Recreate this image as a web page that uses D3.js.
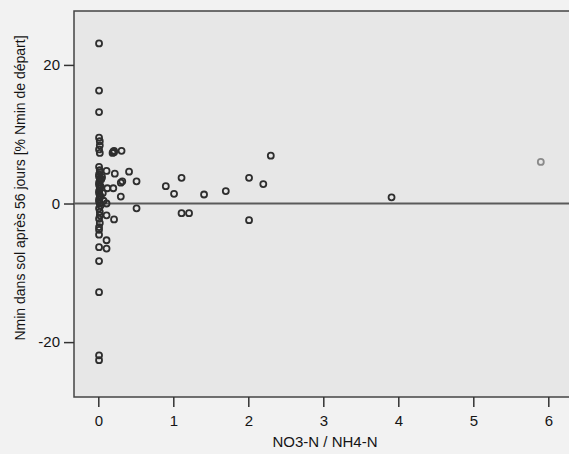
<!DOCTYPE html>
<html>
<head>
<meta charset="utf-8">
<script src="https://cdn.jsdelivr.net/npm/d3@7"></script>
<style>
  body { margin: 0; background: #f2f2f2; }
  svg { display: block; font-family: "Liberation Sans", Arial, sans-serif; }
</style>
</head>
<body>
<div id="chart"></div>
<script>
// NO3-N / NH4-N ratio
let ratio = [
  0.01, 0.01, 0.01, 0.01, 0.02, 0.02, 0.01, 0.02, 0.01, 0.02, 0.01, 0.02, 0.01, 0.02,
  0.01, 0.02, 0.01, 0.02, 0.01, 0.02, 0.01, 0.02, 0.01, 0.01, 0.01, 0.01, 0.01, 0.01, 0.01,
  0.02, 0.01, 0.02, 0.01, 0.02, 0.01, 0.02, 0.01, 0.03, 0.03, 0.04, 0.03, 0.02, 0.01,
  0.11, 0.12, 0.11, 0.11, 0.11, 0.11, 0.05, 0.06, 0.07,
  0.20, 0.19, 0.21, 0.21, 0.31, 0.22, 0.20, 0.21, 0.30, 0.32, 0.30, 0.41, 0.51, 0.51,
  0.90, 1.01, 1.11, 1.11, 1.21, 1.41, 1.70, 2.01, 2.01, 2.20, 2.30, 3.91, 5.90
];
// Nmin dans sol apres 56 jours [% Nmin de depart]
let nmin = [
  23.1, 16.3, 13.2, 9.5, 9.0, 8.4, 7.8, 7.3, 5.3, 4.8, 4.2, 3.6, 3.0, 2.4,
  1.8, 1.2, 0.6, 0.0, -0.7, -1.2, -2.2, -2.8, -3.4, -4.5, -6.3, -8.3, -12.8, -21.9, -22.6,
  4.5, 3.9, 3.3, 2.7, 2.1, 1.5, 0.9, 0.3, 2.5, 1.0, 3.5, -0.3, -1.7, -3.8,
  4.7, 2.2, 0.0, -1.7, -5.3, -6.5, 3.8, 1.5, 0.4,
  7.5, 7.3, 7.4, 7.6, 7.6, 4.3, 2.2, -2.3, 3.0, 3.2, 1.0, 4.6, 3.2, -0.7,
  2.5, 1.4, 3.7, -1.4, -1.4, 1.3, 1.8, 3.7, -2.4, 2.8, 6.9, 0.9, 6.0
];
let xTicks = [0, 1, 2, 3, 4, 5, 6];
let yTicks = [-20, 0, 20];

let data = ratio.map((r, i) => ({x: r, y: nmin[i]}));

let W = 569, H = 454;
let svg = d3.select("#chart").append("svg")
  .attr("width", W)
  .attr("height", H);

let plotLeft = 74, plotTop = 11, plotRight = 575, plotBottom = 397;

let x = d3.scaleLinear().domain([-0.324, 6.356]).range([plotLeft, plotRight]);
let y = d3.scaleLinear().domain([-27.92, 27.78]).range([plotBottom, plotTop]);

// plot background
svg.append("rect")
  .attr("x", plotLeft).attr("y", plotTop)
  .attr("width", plotRight - plotLeft).attr("height", plotBottom - plotTop)
  .attr("fill", "#e7e7e7")
  .attr("stroke", "#444")
  .attr("stroke-width", 1.5);

// reference line at 0
svg.append("line")
  .attr("x1", plotLeft).attr("x2", plotRight)
  .attr("y1", y(0)).attr("y2", y(0))
  .attr("stroke", "#5a5a5a")
  .attr("stroke-width", 2);

let xAxis = svg.append("g")
  .attr("transform", "translate(0," + plotBottom + ")")
  .call(d3.axisBottom(x).tickValues(xTicks).tickSize(10).tickPadding(8).tickFormat((d) => String(d)));

let yAxis = svg.append("g")
  .attr("transform", "translate(" + plotLeft + ",0)")
  .call(d3.axisLeft(y).tickValues(yTicks).tickSize(10).tickPadding(4).tickFormat((d) => String(d)));

[xAxis, yAxis].forEach(function (g) {
  g.select(".domain").remove();
  g.selectAll(".tick line").attr("stroke", "#333").attr("stroke-width", 1.5);
  g.selectAll(".tick text")
    .attr("fill", "#151515")
    .style("font-size", "15px")
    .style("font-family", "Liberation Sans, Arial, sans-serif");
});

// points
svg.append("g")
  .selectAll("circle")
  .data(data)
  .enter()
  .append("circle")
  .attr("cx", (d) => x(d.x))
  .attr("cy", (d) => y(d.y))
  .attr("r", 3)
  .attr("fill", "none")
  .attr("stroke", (d) => d.x > 5 ? "#8a8a8a" : "#2e2e2e")
  .attr("stroke-width", 1.8);

// axis titles
svg.append("text")
  .attr("x", 325)
  .attr("y", 447)
  .attr("text-anchor", "middle")
  .style("font-size", "15px")
  .attr("fill", "#151515")
  .text("NO3-N / NH4-N");

svg.append("text")
  .attr("transform", "translate(25,188) rotate(-90)")
  .attr("text-anchor", "middle")
  .style("font-size", "14px")
  .attr("fill", "#151515")
  .text("Nmin dans sol après 56 jours [% Nmin de départ]");
</script>
</body>
</html>
